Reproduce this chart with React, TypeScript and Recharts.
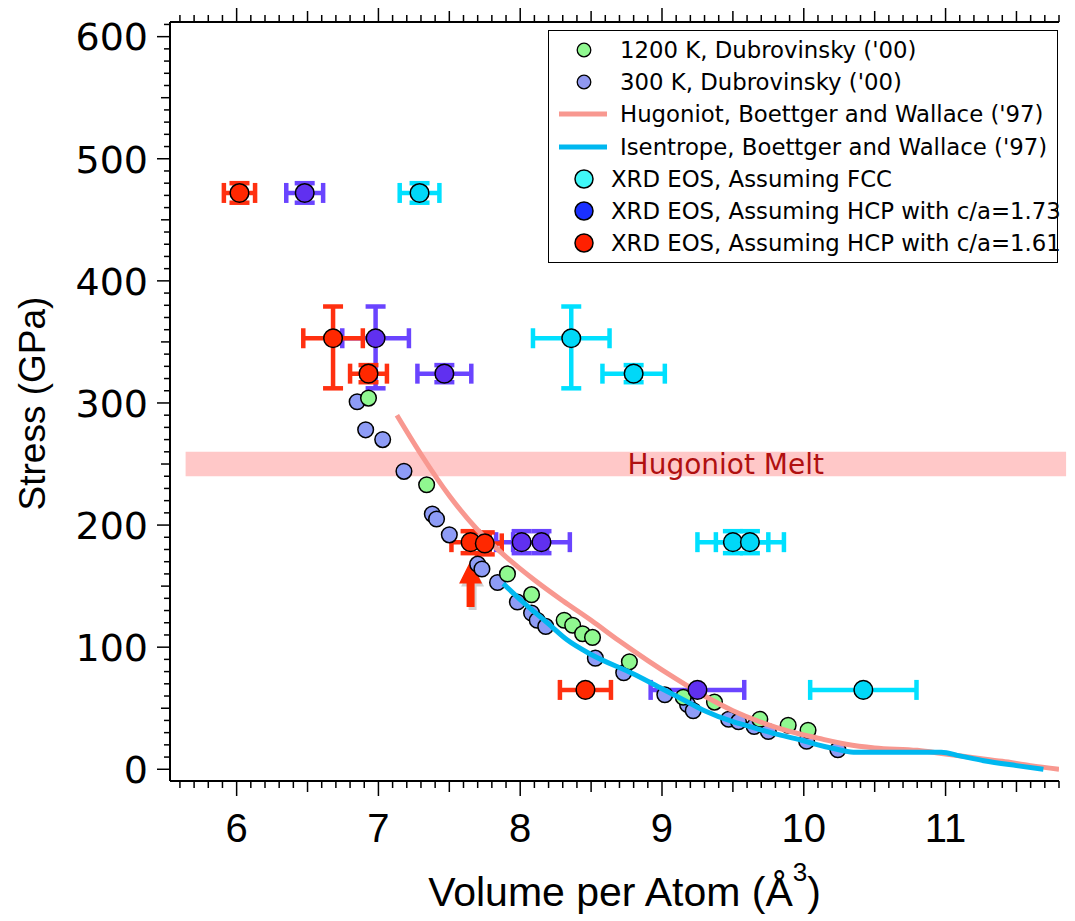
import React from 'react';
import {
  ComposedChart,
  Scatter,
  Line,
  XAxis,
  YAxis,
  ErrorBar,
  ReferenceArea,
  ReferenceDot,
  ReferenceLine,
  Legend,
} from 'recharts';

// ---------------- Data ----------------
const X_TICK_LABELS = [6, 7, 8, 9, 10, 11];
const Y_TICK_LABELS = [0, 100, 200, 300, 400, 500, 600];
const X_DOMAIN = [5.53, 11.8];
const Y_DOMAIN = [-9.6, 612];

const DUB_1200K_VOLUME = [6.93, 7.34, 7.91, 8.08, 8.31, 8.37, 8.44, 8.51, 8.77, 9.15, 9.37, 9.69, 9.89, 10.03];
const DUB_1200K_STRESS = [304, 233, 160, 143, 122, 118, 111, 108, 88, 59, 55, 41, 36, 32];

const DUB_300K_VOLUME = [6.85, 6.91, 7.03, 7.18, 7.38, 7.41, 7.5, 7.7, 7.73, 7.84, 7.98, 8.08, 8.12, 8.18, 8.53, 8.73, 9.02, 9.18, 9.22, 9.47, 9.54, 9.65, 9.75, 10.02, 10.24];
const DUB_300K_STRESS = [301, 278, 270, 244, 209, 205, 192, 168, 164, 153, 137, 128, 122, 117, 91, 79, 61, 53, 48, 41, 39, 35, 31, 23, 16];

const HUGONIOT_VOLUME = [7.13, 7.3, 7.5, 7.7, 7.9, 8.1, 8.3, 8.5, 8.7, 8.9, 9.1, 9.3, 9.5, 9.7, 9.9, 10.1, 10.3, 10.5, 10.8, 11.0, 11.2, 11.4, 11.6, 11.8];
const HUGONIOT_STRESS = [290, 258, 224, 196, 174, 155, 138, 122, 105, 89, 74, 60, 48, 38.5, 31, 25.5, 20.5, 17.5, 15.5, 12.5, 9.5, 6.5, 3, 0];

const ISENTROPE_VOLUME = [7.88, 8.0, 8.2, 8.33, 8.5, 8.8, 9.0, 9.15, 9.3, 9.5, 9.62, 9.8, 9.98, 10.1, 10.21, 10.35, 10.6, 10.97, 11.1, 11.27, 11.5, 11.69];
const ISENTROPE_STRESS = [152, 139, 119, 106, 94, 78, 66, 57, 48, 39, 35, 29, 24, 20, 17, 14, 14, 14, 11, 7, 3, 0];

const FCC_VOLUME = [7.29, 8.36, 8.8, 9.5, 9.62, 10.42];
const FCC_STRESS = [472, 353, 324, 186, 186, 65];
const FCC_VOLUME_ERR = [0.14, 0.27, 0.22, 0.25, 0.24, 0.375];
const FCC_STRESS_ERR: (number | number[])[] = [8, [41, 26], 7, 9, 9, 0];

const HCP173_VOLUME = [6.48, 6.98, 7.465, 8.01, 8.15, 9.25];
const HCP173_STRESS = [472, 353, 324, 186, 186, 65];
const HCP173_VOLUME_ERR = [0.13, 0.235, 0.19, 0.18, 0.2, 0.33];
const HCP173_STRESS_ERR: (number | number[])[] = [8, [41, 26], 7, 9, 9, 0];

const HCP161_VOLUME = [6.02, 6.68, 6.93, 7.65, 7.75, 8.46];
const HCP161_STRESS = [472, 353, 324, 186, 185, 65];
const HCP161_VOLUME_ERR = [0.11, 0.21, 0.13, 0.135, 0.12, 0.18];
const HCP161_STRESS_ERR: (number | number[])[] = [8, [41, 26], 7, 9, 9, 0];

const MELT_STRESS = [240, 260];
const MELT_VOLUME = [5.64, 11.85];
const MELT_LABEL = { text: 'Hugoniot Melt', x: 9.45, y: 250 };
const ARROW = { x: 7.65, from: 133, to: 171 };

const LEGEND_LABELS = [
  "1200 K, Dubrovinsky ('00)",
  "300 K, Dubrovinsky ('00)",
  "Hugoniot, Boettger and Wallace ('97)",
  "Isentrope, Boettger and Wallace ('97)",
  'XRD EOS, Assuming FCC',
  'XRD EOS, Assuming HCP with c/a=1.73',
  'XRD EOS, Assuming HCP with c/a=1.61',
];

// ---------------- Styles ----------------
const C_1200K = '#90f890';
const C_300K = '#8e9cf6';
const C_HUG = '#f89890';
const C_ISEN = '#00b8f0';
const C_FCC = '#00d8f8';
const C_FCC_ERR = '#00e0ff';
const C_HCP173 = '#6030f0';
const C_HCP173_ERR = '#6a44ff';
const C_HCP161 = '#ff2800';
const C_HCP161_ERR = '#ff3010';

const LEGEND_STYLE = [
  { kind: 'small', color: C_1200K },
  { kind: 'small', color: '#9098f0' },
  { kind: 'line', color: C_HUG },
  { kind: 'line', color: C_ISEN },
  { kind: 'big', color: '#40f8f8' },
  { kind: 'big', color: '#1a30ff' },
  { kind: 'big', color: '#ff2000' },
];

// ---------------- Build tables ----------------
const zipPts = (xs: number[], ys: number[]) => xs.map((x, i) => ({ x, y: ys[i] }));
const zipErr = (xs: number[], ys: number[], ex: number[], ey: (number | number[])[]) =>
  xs.map((x, i) => ({ x, y: ys[i], ex: ex[i], ey: ey[i] }));

const dub1200 = zipPts(DUB_1200K_VOLUME, DUB_1200K_STRESS);
const dub300 = zipPts(DUB_300K_VOLUME, DUB_300K_STRESS);
const hugoniot = zipPts(HUGONIOT_VOLUME, HUGONIOT_STRESS);
const isentrope = zipPts(ISENTROPE_VOLUME, ISENTROPE_STRESS);
const fcc = zipErr(FCC_VOLUME, FCC_STRESS, FCC_VOLUME_ERR, FCC_STRESS_ERR);
const hcp173 = zipErr(HCP173_VOLUME, HCP173_STRESS, HCP173_VOLUME_ERR, HCP173_STRESS_ERR);
const hcp161 = zipErr(HCP161_VOLUME, HCP161_STRESS, HCP161_VOLUME_ERR, HCP161_STRESS_ERR);

const X_TICKS: number[] = [];
for (let i = 56; i <= 118; i++) X_TICKS.push(i / 10);
const Y_TICKS: number[] = [];
for (let i = 0; i <= 61; i++) Y_TICKS.push(i * 10);

const isMult = (v: number, m: number) => Math.abs(v / m - Math.round(v / m)) < 1e-6;

// ---------------- Custom renderers ----------------
const XTickBottom = (props: any) => {
  const { x, y, payload } = props;
  const v = payload.value as number;
  const major = isMult(v, 1);
  const half = isMult(v, 0.5);
  const len = major ? 15 : half ? 11 : 7;
  const showLabel = major && X_TICK_LABELS.includes(Math.round(v));
  return (
    <g>
      <line x1={x} y1={y} x2={x} y2={y + len} stroke="#000" strokeWidth={1.5} />
      {showLabel && (
        <text x={x} y={y + 61} textAnchor="middle" fontFamily="'Liberation Sans', Arial, sans-serif" fontSize={40} fill="#000">
          {Math.round(v)}
        </text>
      )}
    </g>
  );
};

const XTickTop = (props: any) => {
  const { x, y, payload } = props;
  const v = payload.value as number;
  const len = isMult(v, 1) ? 15 : isMult(v, 0.5) ? 11 : 7;
  return <line x1={x} y1={y} x2={x} y2={y - len} stroke="#000" strokeWidth={1.5} />;
};

const YTickLeft = (props: any) => {
  const { x, y, payload } = props;
  const v = payload.value as number;
  const major = isMult(v, 100);
  const half = isMult(v, 50);
  const len = major ? 13 : half ? 9 : 6;
  const showLabel = major && Y_TICK_LABELS.includes(Math.round(v));
  return (
    <g>
      <line x1={x} y1={y} x2={x - len} y2={y} stroke="#000" strokeWidth={1.5} />
      {showLabel && (
        <text x={x - 22} y={y + 13.8} textAnchor="end" fontFamily="'DejaVu Sans', sans-serif" fontSize={38} fill="#000">
          {Math.round(v)}
        </text>
      )}
    </g>
  );
};

const YTitle = (props: any) => {
  const vb = props.viewBox || { x: 0, y: 14, width: 162, height: 759 };
  const cx = 24;
  const cy = vb.y + vb.height / 2 + 2;
  return (
    <text
      x={cx}
      y={cy}
      transform={`rotate(-90 ${cx} ${cy})`}
      textAnchor="middle"
      dominantBaseline="central"
      fontFamily="'Liberation Sans', Arial, sans-serif"
      fontSize={37}
      fill="#000"
    >
      Stress (GPa)
    </text>
  );
};

const XTitle = (props: any) => {
  const vb = props.viewBox || { x: 162, y: 773, width: 889, height: 140 };
  const cx = vb.x + vb.width / 2 + 10;
  return (
    <text x={cx} y={898} textAnchor="middle" fontFamily="'Liberation Sans', Arial, sans-serif" fontSize={41} fill="#000">
      Volume per Atom (Å<tspan dy={-25} fontSize={26}>3</tspan>
      <tspan dy={25}>)</tspan>
    </text>
  );
};

const dot = (r: number, fill: string) => (p: any) =>
  <circle cx={p.cx} cy={p.cy} r={r} fill={fill} stroke="#000" strokeWidth={1.5} />;

const ArrowShape = (p: any) => {
  const x = p.x1;
  const yTip = Math.min(p.y1, p.y2);
  const yBase = Math.max(p.y1, p.y2);
  const head = 23;
  const hw = 11.5;
  const sw = 4;
  const pts = [
    [x, yTip],
    [x + hw, yTip + head],
    [x + sw, yTip + head],
    [x + sw, yBase],
    [x - sw, yBase],
    [x - sw, yTip + head],
    [x - hw, yTip + head],
  ];
  const str = pts.map((q) => q.join(',')).join(' ');
  const shadow = pts.map((q) => `${q[0] + 2},${q[1] + 3}`).join(' ');
  return (
    <g>
      <polygon points={shadow} fill="rgba(0,0,0,0.18)" />
      <polygon points={str} fill="#ff2800" />
    </g>
  );
};

const MeltText = (p: any) => (
  <text x={p.cx} y={p.cy + 10} textAnchor="middle" fontFamily="'DejaVu Sans', sans-serif" fontSize={28} fill="#b01010">
    {MELT_LABEL.text}
  </text>
);

const LegendBox = () => (
  <div
    style={{
      position: 'relative',
      width: 510,
      height: 233,
      border: '1.5px solid #000',
      boxSizing: 'border-box',
      background: '#fff',
      fontFamily: "'DejaVu Sans', sans-serif",
      fontSize: 22.8,
      color: '#000',
    }}
  >
    {LEGEND_LABELS.map((label, i) => {
      const st = LEGEND_STYLE[i];
      const top = 3 + i * 32.2;
      const textLeft = st.kind === 'big' ? 62 : 71;
      return (
        <div key={label} style={{ position: 'absolute', top, left: 0, right: 0, height: 32 }}>
          <svg width={70} height={32} style={{ position: 'absolute', left: 0, top: 0 }}>
            {st.kind === 'small' && <circle cx={35} cy={16} r={6.8} fill={st.color} stroke="#000" strokeWidth={1.3} />}
            {st.kind === 'big' && <circle cx={35} cy={16} r={9} fill={st.color} stroke="#000" strokeWidth={1.5} />}
            {st.kind === 'line' && <line x1={10} y1={16} x2={58} y2={16} stroke={st.color} strokeWidth={5} />}
          </svg>
          <span style={{ position: 'absolute', left: textLeft, top: 0, lineHeight: '32px', whiteSpace: 'nowrap' }}>{label}</span>
        </div>
      );
    })}
  </div>
);

export default function App() {
  return (
    <div style={{ width: 1067, height: 913, fontFamily: "'Liberation Sans', Arial, sans-serif" }}>
      <ComposedChart width={1067} height={913} margin={{ top: 0, right: 16, bottom: 0, left: 0 }}>
        <XAxis
          xAxisId="bottom"
          dataKey="x"
          type="number"
          orientation="bottom"
          domain={X_DOMAIN}
          allowDataOverflow
          ticks={X_TICKS}
          interval={0}
          tick={<XTickBottom />}
          tickLine={false}
          tickSize={0}
          tickMargin={0}
          height={140}
          axisLine={{ stroke: '#000', strokeWidth: 2 }}
          label={{ content: XTitle }}
        />
        <XAxis
          xAxisId="top"
          dataKey="x"
          type="number"
          orientation="top"
          domain={X_DOMAIN}
          allowDataOverflow
          ticks={X_TICKS}
          interval={0}
          tick={<XTickTop />}
          tickLine={false}
          tickSize={0}
          tickMargin={0}
          height={14}
          axisLine={{ stroke: '#000', strokeWidth: 2 }}
        />
        <YAxis
          yAxisId="left"
          dataKey="y"
          type="number"
          domain={Y_DOMAIN}
          allowDataOverflow
          ticks={Y_TICKS}
          interval={0}
          tick={<YTickLeft />}
          tickLine={false}
          tickSize={0}
          tickMargin={0}
          width={162}
          axisLine={{ stroke: '#000', strokeWidth: 2 }}
          label={{ content: YTitle }}
        />

        <ReferenceArea
          xAxisId="bottom"
          yAxisId="left"
          x1={MELT_VOLUME[0]}
          x2={MELT_VOLUME[1]}
          y1={MELT_STRESS[0]}
          y2={MELT_STRESS[1]}
          fill="#ffc8c8"
          fillOpacity={1}
          stroke="none"
          ifOverflow="visible"
        />

        <Scatter xAxisId="bottom" yAxisId="left" data={dub300} shape={dot(7.8, C_300K)} isAnimationActive={false} legendType="none" />
        <Scatter xAxisId="bottom" yAxisId="left" data={dub1200} shape={dot(7.8, C_1200K)} isAnimationActive={false} legendType="none" />

        <Line xAxisId="bottom" yAxisId="left" data={hugoniot} dataKey="y" type="monotone" stroke={C_HUG} strokeWidth={5} dot={false} activeDot={false} isAnimationActive={false} legendType="none" zIndex={650} />
        <Line xAxisId="bottom" yAxisId="left" data={isentrope} dataKey="y" type="monotone" stroke={C_ISEN} strokeWidth={5} dot={false} activeDot={false} isAnimationActive={false} legendType="none" zIndex={650} />

        <Scatter xAxisId="bottom" yAxisId="left" data={fcc} shape={dot(9.3, C_FCC)} isAnimationActive={false} legendType="none" zIndex={700}>
          <ErrorBar dataKey="ex" direction="x" width={10} strokeWidth={4.5} stroke={C_FCC_ERR} />
          <ErrorBar dataKey="ey" direction="y" width={10} strokeWidth={4.5} stroke={C_FCC_ERR} />
        </Scatter>
        <Scatter xAxisId="bottom" yAxisId="left" data={hcp173} shape={dot(9.3, C_HCP173)} isAnimationActive={false} legendType="none" zIndex={700}>
          <ErrorBar dataKey="ex" direction="x" width={10} strokeWidth={4.5} stroke={C_HCP173_ERR} />
          <ErrorBar dataKey="ey" direction="y" width={10} strokeWidth={4.5} stroke={C_HCP173_ERR} />
        </Scatter>
        <Scatter xAxisId="bottom" yAxisId="left" data={hcp161} shape={dot(9.3, C_HCP161)} isAnimationActive={false} legendType="none" zIndex={700}>
          <ErrorBar dataKey="ex" direction="x" width={10} strokeWidth={4.5} stroke={C_HCP161_ERR} />
          <ErrorBar dataKey="ey" direction="y" width={10} strokeWidth={4.5} stroke={C_HCP161_ERR} />
        </Scatter>

        <ReferenceLine
          xAxisId="bottom"
          yAxisId="left"
          segment={[
            { x: ARROW.x, y: ARROW.from },
            { x: ARROW.x, y: ARROW.to },
          ]}
          shape={ArrowShape}
          ifOverflow="visible"
        />
        <ReferenceDot xAxisId="bottom" yAxisId="left" x={MELT_LABEL.x} y={MELT_LABEL.y} r={0} shape={MeltText} ifOverflow="visible" />

        <Legend
          layout="vertical"
          align="center"
          verticalAlign="middle"
          wrapperStyle={{ left: 540, top: 22, width: 510, height: 233 }}
          content={() => <LegendBox />}
        />
      </ComposedChart>
    </div>
  );
}
